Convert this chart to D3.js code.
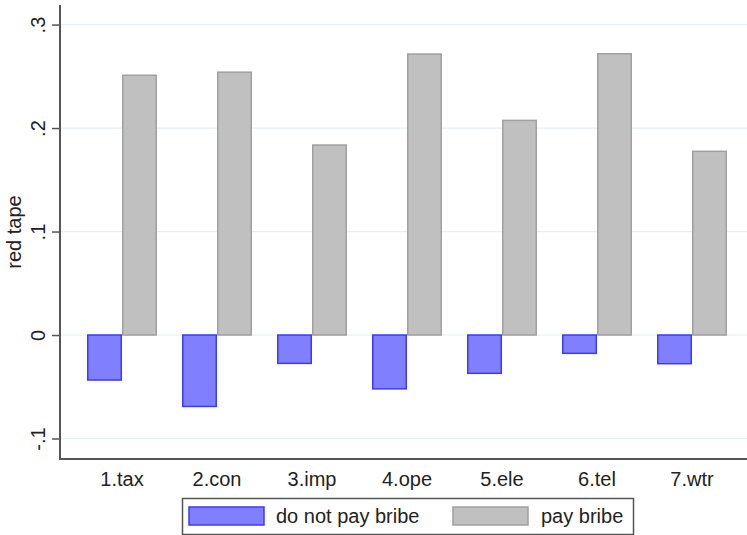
<!DOCTYPE html>
<html>
<head>
<meta charset="utf-8">
<script src="https://cdn.jsdelivr.net/npm/d3@7"></script>
<style>
  html, body { margin: 0; padding: 0; background: #fff; }
  svg { display: block; font-family: "Liberation Sans", Arial, sans-serif; }
</style>
</head>
<body>
<svg id="chart" width="747" height="535"></svg>
<script>
// Red tape by service, split by whether the firm pays a bribe
const categories = ["1.tax", "2.con", "3.imp", "4.ope", "5.ele", "6.tel", "7.wtr"];
const noBribe = [-0.0435, -0.069, -0.0274, -0.052, -0.037, -0.0177, -0.0277];
const payBribe = [0.251, 0.254, 0.1836, 0.2715, 0.2074, 0.2718, 0.1775];
const seriesNames = ["do not pay bribe", "pay bribe"];
const yTicks = [-0.1, 0, 0.1, 0.2, 0.3];
const yTickLabels = ["-.1", "0", ".1", ".2", ".3"];

const svg = d3.select("#chart");
const axisLeft = 60, axisRight = 747, axisTop = 5, axisBottom = 459;
const fontSize = 20;

const y = d3.scaleLinear().domain([-0.1198, 0.3189]).range([axisBottom, axisTop]);
const x0 = d3.scaleBand().domain(categories).range([74.5, 739.5])
  .paddingInner(25 / 95).paddingOuter(12.5 / 95);
const x1 = d3.scaleBand().domain(seriesNames).range([0, x0.bandwidth()]);

const fills = { "do not pay bribe": "#8080ff", "pay bribe": "#c0c0c0" };
const strokes = { "do not pay bribe": "#3a3aff", "pay bribe": "#a0a0a0" };

// grid
svg.append("g").selectAll("line").data(yTicks).join("line")
  .attr("x1", axisLeft).attr("x2", axisRight)
  .attr("y1", d => y(d)).attr("y2", d => y(d))
  .attr("stroke", "#e6eff1").attr("stroke-width", 1.2);

// bars
const rows = categories.map((c, i) => ({ cat: c, vals: [
  { s: seriesNames[0], v: noBribe[i] }, { s: seriesNames[1], v: payBribe[i] }] }));
const grp = svg.append("g").selectAll("g").data(rows).join("g")
  .attr("transform", d => `translate(${x0(d.cat)},0)`);
grp.selectAll("rect").data(d => d.vals).join("rect")
  .attr("x", d => x1(d.s) + 0.75)
  .attr("width", x1.bandwidth() - 1.5)
  .attr("y", d => Math.min(y(d.v), y(0)))
  .attr("height", d => Math.abs(y(d.v) - y(0)))
  .attr("fill", d => fills[d.s])
  .attr("stroke", d => strokes[d.s])
  .attr("stroke-width", 1.5);

// y axis
const yAxis = svg.append("g").attr("transform", `translate(${axisLeft},0)`)
  .call(d3.axisLeft(y).tickValues(yTicks).tickSize(8)
    .tickFormat((d, i) => yTickLabels[i]));
yAxis.select(".domain").remove();
yAxis.selectAll(".tick line").attr("stroke", "#555").attr("stroke-width", 1.5);
yAxis.selectAll(".tick text")
  .attr("font-size", fontSize).attr("fill", "#222")
  .attr("text-anchor", "middle").attr("dy", 0)
  .attr("x", 0).attr("y", 0)
  .attr("transform", "translate(-15.5,0) rotate(-90)");
svg.append("line").attr("x1", axisLeft).attr("x2", axisLeft)
  .attr("y1", axisTop).attr("y2", axisBottom + 1)
  .attr("stroke", "#555").attr("stroke-width", 2);

// x axis
svg.append("line").attr("x1", axisLeft - 1).attr("x2", axisRight)
  .attr("y1", axisBottom).attr("y2", axisBottom)
  .attr("stroke", "#555").attr("stroke-width", 2);
const xAxis = svg.append("g").attr("transform", `translate(0,${axisBottom})`)
  .call(d3.axisBottom(x0).tickSize(0));
xAxis.select(".domain").remove();
xAxis.selectAll(".tick text").attr("font-size", fontSize).attr("fill", "#222")
  .attr("dy", 0).attr("y", 27);

// y title
svg.append("text").attr("transform", `translate(21,${(axisTop + axisBottom) / 2}) rotate(-90)`)
  .attr("text-anchor", "middle").attr("font-size", fontSize).attr("fill", "#222")
  .text("red tape");

// legend
const leg = svg.append("g");
leg.append("rect").attr("x", 182.5).attr("y", 498.5).attr("width", 451).attr("height", 36)
  .attr("fill", "#fff").attr("stroke", "#555").attr("stroke-width", 1.5);
const legItems = [{ s: seriesNames[0], sx: 189, tx: 276 }, { s: seriesNames[1], sx: 453, tx: 541 }];
legItems.forEach(it => {
  leg.append("rect").attr("x", it.sx).attr("y", 507).attr("width", 75).attr("height", 18)
    .attr("fill", fills[it.s]).attr("stroke", strokes[it.s]).attr("stroke-width", 1.5);
  leg.append("text").attr("x", it.tx).attr("y", 523).attr("font-size", fontSize)
    .attr("fill", "#222").text(it.s);
});
</script>
</body>
</html>
